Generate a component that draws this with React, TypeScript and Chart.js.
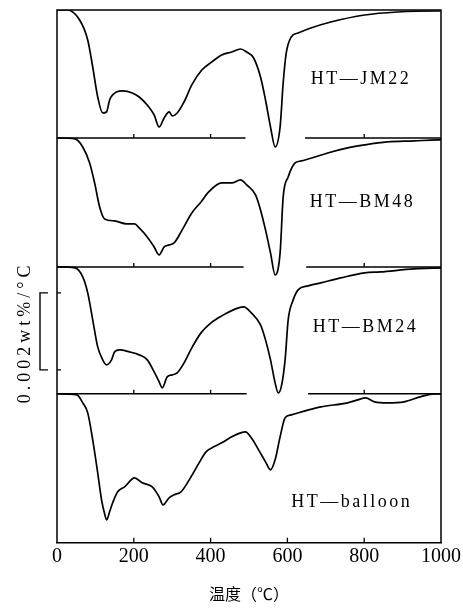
import { useEffect, useRef } from 'react';
import { Chart, registerables } from 'chart.js';
Chart.register(...registerables);

// Sample names (panel labels)
const SAMPLES = ['HT—JM22', 'HT—BM48', 'HT—BM24', 'HT—balloon'];

// DTG curves: temperature (°C) and signal depth below the panel baseline (relative units)
const T_JM22 = [0, 26, 59, 80, 93, 106, 119, 129, 137, 155, 171, 196, 214, 235, 253, 266, 279, 292, 300, 313, 331, 351, 377, 403, 429, 455, 478, 494, 512, 530, 543, 556, 568, 581, 589, 597, 610, 628, 661, 713, 801, 886, 990, 1000];
const D_JM22 = [0, 0, 10, 30, 57, 87, 103, 102, 90, 82, 81, 83, 87, 95, 105, 117, 108, 102, 106, 103, 92, 75, 60, 52, 45, 42, 39, 42, 48, 67, 90, 117, 137, 117, 73, 43, 27, 23, 18, 12, 5, 2, 1, 1];

const T_BM48 = [0, 47, 67, 85, 98, 111, 124, 150, 181, 202, 214, 235, 253, 266, 279, 292, 305, 326, 351, 375, 395, 429, 455, 478, 494, 517, 530, 543, 556, 568, 581, 589, 602, 620, 636, 672, 705, 757, 801, 860, 930, 990, 1000];
const D_BM48 = [0, 1, 9, 25, 45, 69, 81, 83, 86, 86, 90, 99, 109, 117, 109, 107, 105, 92, 75, 64, 54, 45, 45, 42, 47, 57, 72, 92, 115, 137, 115, 59, 39, 25, 23, 19, 15, 10, 7, 4, 3, 2, 2];

const T_BM24 = [0, 47, 67, 80, 93, 106, 119, 129, 142, 150, 163, 189, 214, 235, 253, 266, 274, 287, 300, 313, 331, 351, 375, 401, 429, 465, 486, 506, 530, 543, 556, 568, 576, 584, 594, 602, 615, 628, 654, 687, 739, 801, 842, 930, 1000];
const D_BM24 = [0, 1, 10, 26, 53, 80, 93, 98, 93, 85, 83, 85, 88, 93, 105, 115, 121, 110, 108, 106, 96, 81, 66, 56, 49, 42, 40, 46, 58, 73, 93, 116, 126, 120, 93, 53, 33, 23, 19, 16, 11, 6, 5, 2, 1];

const T_BALLOON = [0, 52, 67, 80, 93, 106, 116, 124, 129, 137, 145, 158, 176, 202, 222, 248, 266, 276, 292, 305, 323, 349, 370, 388, 408, 429, 455, 478, 491, 506, 525, 543, 556, 568, 581, 594, 610, 646, 687, 757, 783, 804, 827, 860, 904, 946, 982, 1000];
const D_BALLOON = [0, 1, 9, 19, 46, 79, 106, 120, 126, 118, 109, 98, 93, 84, 89, 93, 103, 111, 104, 101, 98, 83, 69, 58, 53, 49, 43, 39, 38, 44, 56, 68, 76, 66, 43, 24, 21, 17, 13, 9, 6, 4, 8, 9, 8, 3, 0, 0];

// Vertical offsets of each panel baseline (relative units)
const PANEL_OFFSETS = [0, 128, 257, 384];
const TOTAL_SPAN = 533;

// Baselines between panels, with the gap where the curve above crosses them
const SEP_LEVELS = [128, 257, 384];
const SEP_GAPS = [[491, 646], [486, 649], [494, 654]];
const SEP_TICKS = [200, 400, 800];

// Axis
const X_TICKS = [0, 200, 400, 600, 800, 1000];
const X_TITLE = '温度（℃）';
const SCALE_BAR = 77; // relative units equal to 0.002 wt%/°C
const SCALE_BAR_TOP = 283;
const SCALE_LABEL = '0.002wt%/°C';

// Panel label anchors: [temperature, level]
const LABEL_T = [661, 658, 666, 610];
const LABEL_LEVEL = [69, 192, 317, 492];

const CURVES = [
  [T_JM22, D_JM22],
  [T_BM48, D_BM48],
  [T_BM24, D_BM24],
  [T_BALLOON, D_BALLOON],
];

export default function App() {
  const ref = useRef<HTMLCanvasElement | null>(null);

  useEffect(() => {
    const canvas = ref.current;
    if (!canvas) return;

    const datasets: any[] = CURVES.map(([ts, ds], i) => ({
      label: SAMPLES[i],
      data: ts.map((t, k) => ({ x: t, y: -PANEL_OFFSETS[i] - ds[k] })),
      borderColor: '#000',
      borderWidth: 1.7,
      pointRadius: 0,
      fill: false,
      cubicInterpolationMode: 'monotone',
    }));

    SEP_LEVELS.forEach((lv, i) => {
      const [g0, g1] = SEP_GAPS[i];
      datasets.push({
        label: 'sep' + i,
        data: [
          { x: 0, y: -lv },
          { x: g0, y: -lv },
          { x: (g0 + g1) / 2, y: null },
          { x: g1, y: -lv },
          { x: 1000, y: -lv },
        ],
        borderColor: '#000',
        borderWidth: 1.5,
        pointRadius: 0,
        spanGaps: false,
        fill: false,
      });
    });

    const decor = {
      id: 'decor',
      afterDraw(chart: any) {
        const { ctx, chartArea: a, scales } = chart;
        const xs = scales.x;
        const ys = scales.y;
        ctx.save();
        ctx.strokeStyle = '#000';
        ctx.fillStyle = '#000';
        ctx.lineWidth = 1.5;
        // frame
        ctx.beginPath();
        ctx.moveTo(a.left, a.bottom);
        ctx.lineTo(a.left, a.top);
        ctx.lineTo(a.right, a.top);
        ctx.lineTo(a.right, a.bottom);
        ctx.stroke();
        // inward ticks on bottom axis
        ctx.lineWidth = 1.3;
        ctx.beginPath();
        X_TICKS.slice(1, -1).forEach((t) => {
          const px = xs.getPixelForValue(t);
          ctx.moveTo(px, a.bottom);
          ctx.lineTo(px, a.bottom - 5);
        });
        // ticks on separators
        SEP_LEVELS.forEach((lv) => {
          const py = ys.getPixelForValue(-lv);
          SEP_TICKS.forEach((t) => {
            const px = xs.getPixelForValue(t);
            ctx.moveTo(px, py);
            ctx.lineTo(px, py - 4);
          });
        });
        // scale bar ticks on left axis
        const by0 = ys.getPixelForValue(-SCALE_BAR_TOP);
        const by1 = ys.getPixelForValue(-SCALE_BAR_TOP - SCALE_BAR);
        ctx.moveTo(a.left, by0);
        ctx.lineTo(a.left + 4, by0);
        ctx.moveTo(a.left, by1);
        ctx.lineTo(a.left + 4, by1);
        ctx.stroke();
        // bracket
        ctx.lineWidth = 1.4;
        ctx.beginPath();
        ctx.moveTo(a.left - 9, by0);
        ctx.lineTo(a.left - 17, by0);
        ctx.lineTo(a.left - 17, by1);
        ctx.lineTo(a.left - 9, by1);
        ctx.stroke();
        // panel labels
        ctx.font = '18px "Liberation Serif"';
        (ctx as any).letterSpacing = '2.5px';
        ctx.textAlign = 'left';
        ctx.textBaseline = 'middle';
        SAMPLES.forEach((s, i) => {
          ctx.fillText(s, xs.getPixelForValue(LABEL_T[i]), ys.getPixelForValue(-LABEL_LEVEL[i]));
        });
        // y label
        ctx.save();
        ctx.translate(25, (by0 + by1) / 2 + 3);
        ctx.rotate(-Math.PI / 2);
        ctx.font = '18px "Liberation Serif"';
        (ctx as any).letterSpacing = '4px';
        ctx.textAlign = 'center';
        ctx.textBaseline = 'middle';
        ctx.fillText(SCALE_LABEL, 2, 0);
        ctx.restore();
        ctx.restore();
      },
    };

    const chart = new Chart(canvas, {
      type: 'line',
      data: { datasets },
      options: {
        animation: false,
        responsive: false,
        maintainAspectRatio: false,
        layout: { padding: { left: 57, right: 19, top: 10, bottom: 6 } },
        plugins: { legend: { display: false }, tooltip: { enabled: false } },
        scales: {
          x: {
            type: 'linear',
            min: 0,
            max: 1000,
            afterBuildTicks: (s: any) => {
              s.ticks = X_TICKS.map((v) => ({ value: v }));
            },
            ticks: {
              font: { family: 'Liberation Serif', size: 20 },
              color: '#000',
              padding: 2,
              maxRotation: 0,
              autoSkip: false,
              callback: (v: any) => String(v),
            },
            grid: { display: false, drawTicks: false },
            border: { display: true, color: '#000', width: 1.5 },
            title: {
              display: true,
              text: X_TITLE,
              color: '#000',
              font: { family: 'Noto Sans CJK SC', size: 16 },
              padding: { top: 14, bottom: 0 },
            },
          },
          y: {
            type: 'linear',
            min: -TOTAL_SPAN,
            max: 0,
            display: false,
          },
        },
      },
      plugins: [decor],
    });
    return () => chart.destroy();
  }, []);

  return (
    <div style={{ position: 'absolute', left: 0, top: 0, width: 463, height: 610, background: '#fff' }}>
      <canvas ref={ref} width={463} height={610} style={{ width: 463, height: 610 }} />
    </div>
  );
}
